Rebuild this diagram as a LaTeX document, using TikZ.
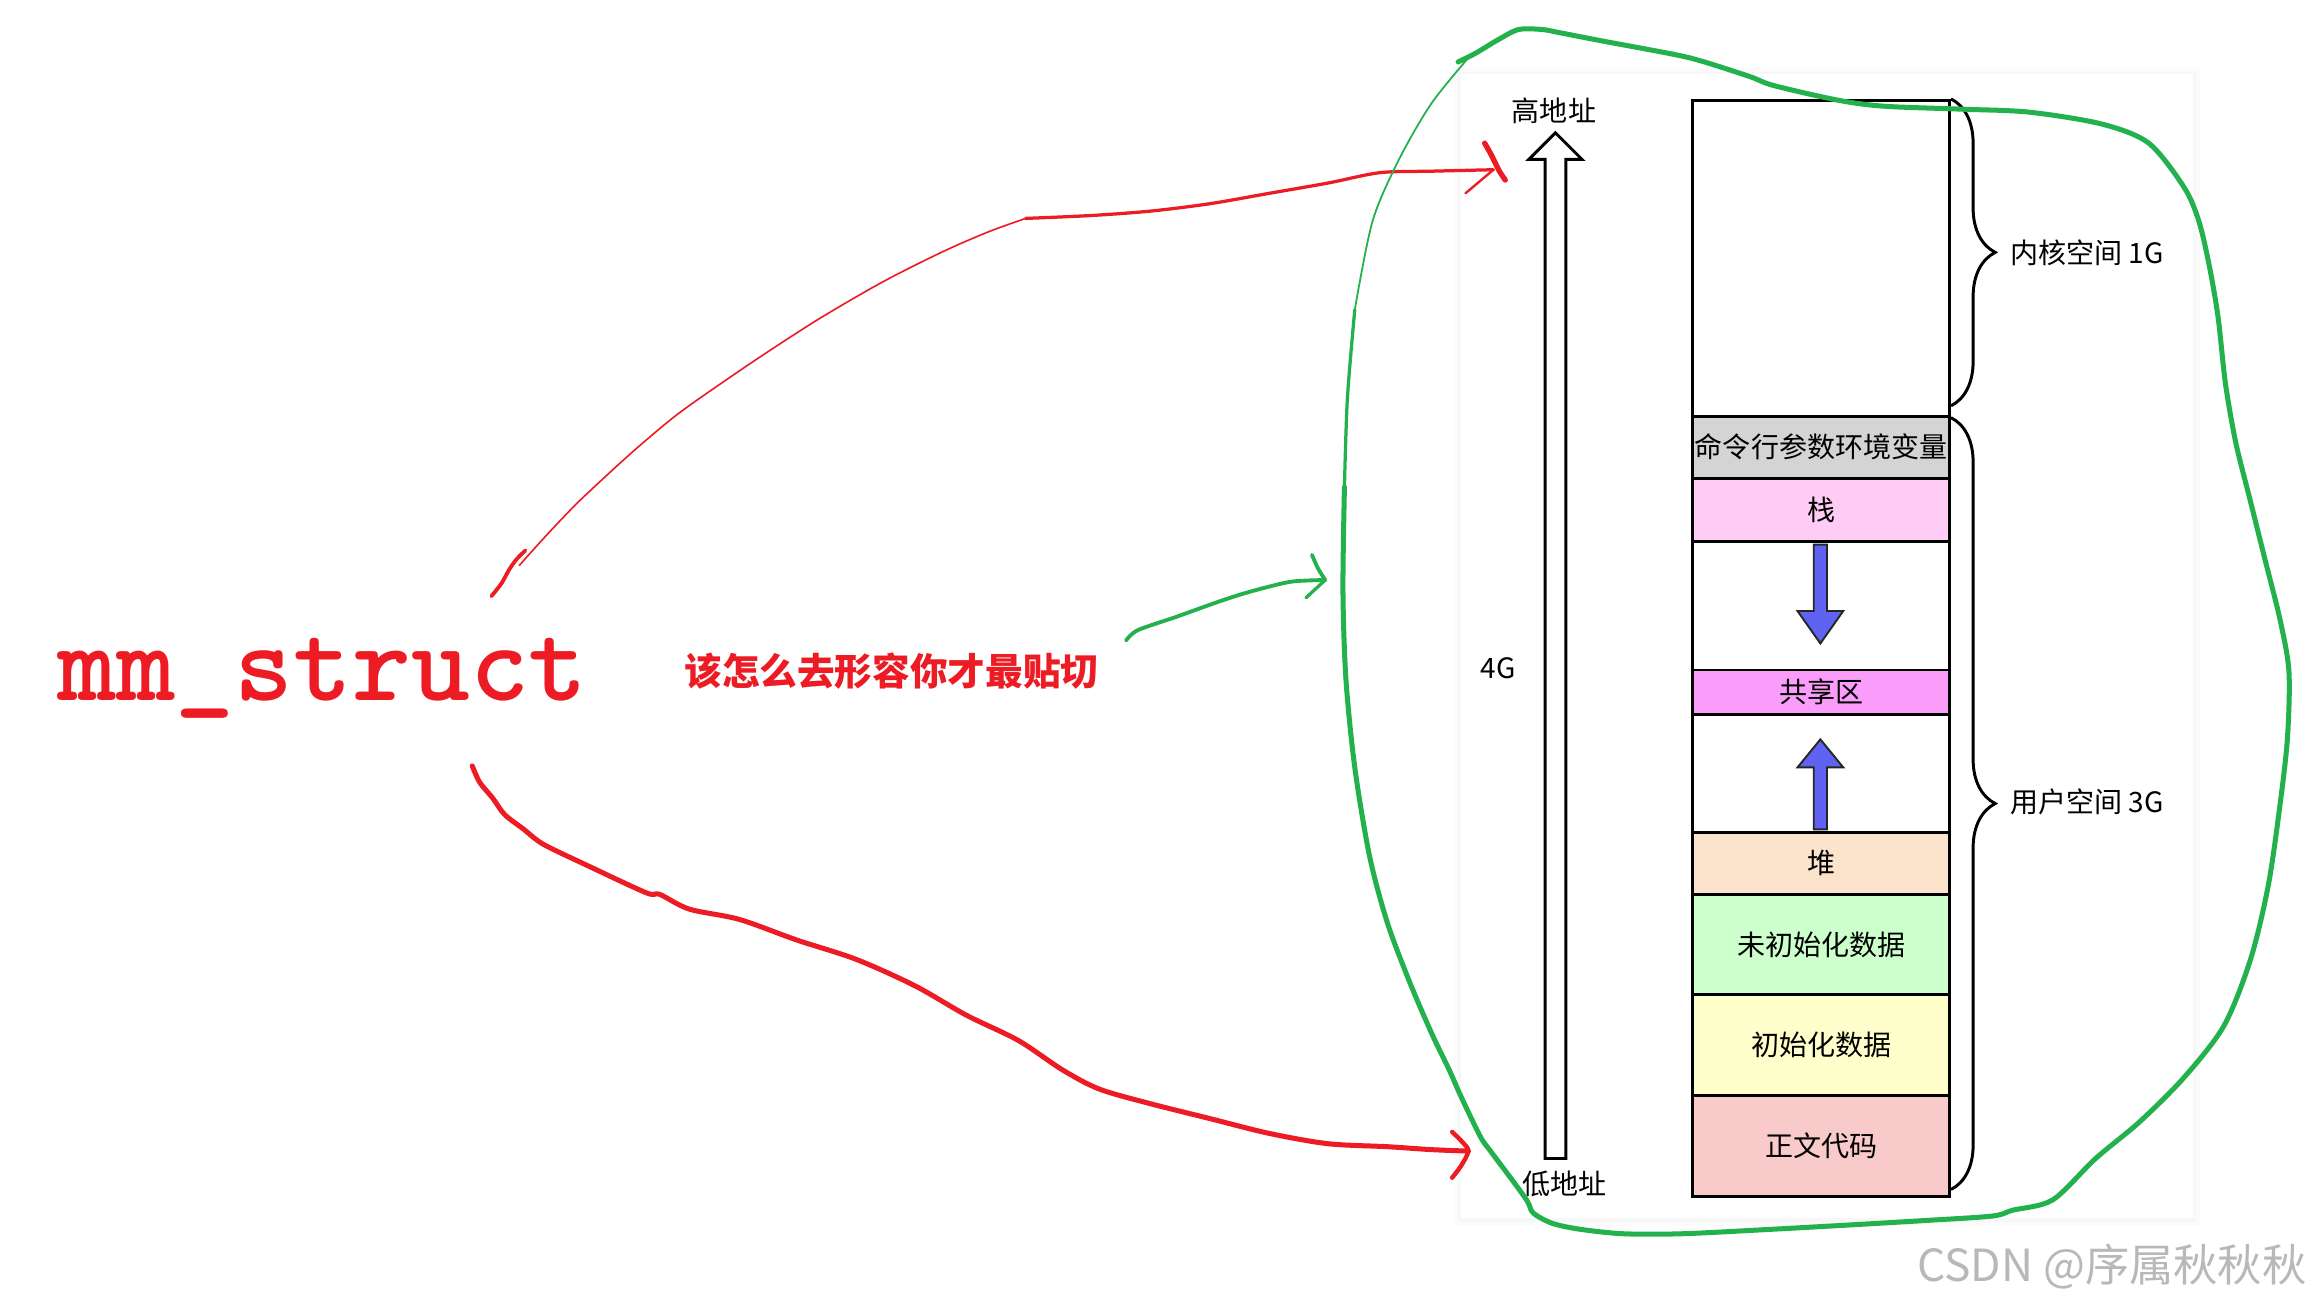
\documentclass[tikz,border=0pt]{standalone}
\usepackage{fontspec}
\newfontfamily\cjk{Noto Sans CJK SC}
\usetikzlibrary{decorations.pathreplacing}
\definecolor{pred}{HTML}{ED1C24}
\definecolor{pgreen}{HTML}{22B14C}
\definecolor{pblue}{HTML}{6063F2}
\definecolor{cgrey}{HTML}{D4D4D4}
\definecolor{cpink}{HTML}{FFCCF5}
\definecolor{cmag}{HTML}{FA9CFA}
\definecolor{cpeach}{HTML}{FCE4CC}
\definecolor{cgreen}{HTML}{CCFFCC}
\definecolor{cyellow}{HTML}{FFFFCC}
\definecolor{cred}{HTML}{F9CACA}
\tikzset{
  seg/.style={draw=black, line width=2pt, minimum width=174pt, inner sep=0pt, anchor=north west,
    font=\cjk\fontsize{19}{19}\selectfont},
  lbl/.style={inner sep=0pt, font=\cjk\fontsize{19}{19}\selectfont},
  redpen/.style={draw=pred, line cap=round, line join=round},
  greenpen/.style={draw=pgreen, line cap=round, line join=round},
  bracestyle/.style={draw=black, line width=2pt, decorate, decoration={brace, amplitude=30pt, aspect=0.5}},
  bluearrow/.style={fill=pblue, draw=black!85, line width=1.3pt, line join=miter},
}
\begin{document}
\begin{tikzpicture}[x=1pt, y=-1pt]
\useasboundingbox (0,0) rectangle (1568,886);
\fill[white] (0,0) rectangle (1568,886);

% panel with faint shadow
\fill[black!1.5] (985,46) rectangle (1491,831);
\fill[black!3] (988,49) rectangle (1488,828);
\fill[white] (990,50) rectangle (1486,825);

% big hollow address arrow
\draw[line width=2pt, fill=white, line join=miter] (1047,785) -- (1047,108) -- (1036,108) -- (1054,90) -- (1072,108) -- (1061,108) -- (1061,785) -- cycle;
\node[lbl] (hi) at (1053,75) {高地址};
\node[lbl] (lo) at (1060,802) {低地址};
\node[lbl] (fourg) at (1015,453) {4G};

% memory column
\node[seg, fill=white, minimum height=214pt] (kernel) at (1146,67) {};
\node[seg, fill=cgrey, minimum height=42pt] (cmd) at (1146,281) {命令行参数环境变量};
\node[seg, fill=cpink, minimum height=43pt] (stack) at (1146,323) {栈};
\node[seg, fill=white, minimum height=87pt] (gap1) at (1146,366) {};
\node[seg, fill=cmag, minimum height=30pt] (shared) at (1146,453) {共享区};
\node[seg, fill=white, minimum height=80pt] (gap2) at (1146,483) {};
\node[seg, fill=cpeach, minimum height=42pt] (heap) at (1146,563) {堆};
\node[seg, fill=cgreen, minimum height=68pt] (bss) at (1146,605) {未初始化数据};
\node[seg, fill=cyellow, minimum height=68pt] (data) at (1146,673) {初始化数据};
\node[seg, fill=cred, minimum height=69pt] (text) at (1146,741) {正文代码};

% blue growth arrows
\draw[bluearrow] (1229,369) -- (1238,369) -- (1238,414) -- (1249,414) -- (1233.5,436) -- (1218,414) -- (1229,414) -- cycle;
\draw[bluearrow] (1229,562) -- (1229,520) -- (1218,520) -- (1233.5,501) -- (1249,520) -- (1238,520) -- (1238,562) -- cycle;

% braces
\draw[bracestyle] (1322,67) -- (1322,275);
\draw[bracestyle] (1322,283) -- (1322,806);
\node[lbl, anchor=west] (klbl) at (1362,171) {内核空间 1G};
\node[lbl, anchor=west] (ulbl) at (1362,543) {用户空间 3G};

% left texts
\node[inner sep=0pt, anchor=base west, text=pred, font=\ttfamily\bfseries\fontsize{76}{76}\selectfont] (mm) at (39,475) {mm\_struct};
\node[inner sep=0pt, text=pred, font=\cjk\bfseries\fontsize{25.5}{25.5}\selectfont] (ask) at (604,455) {该怎么去形容你才最贴切};

% red hand-drawn arrows
\coordinate (ua) at (352,383);
\coordinate (ub) at (1012,115);
\coordinate (la) at (320,519);
\coordinate (lb) at (995,780);
\draw[redpen, line width=2.6pt] plot[smooth] coordinates {(333,404) (340,395) (345,386) (350,379) (356,373)};
\draw[redpen, line width=1.1pt] plot[smooth] coordinates {(ua) (370,363) (390,342) (408,325) (430,305) (460,280) (500,252) (530,232) (560,213) (600,190) (640,170) (670,157) (695,148)};
\draw[redpen, line width=2.2pt] plot[smooth] coordinates {(695,148) (740,146) (780,143) (820,138) (860,131) (900,124) (935,117) (970,116) (ub)};
\draw[redpen, line width=3.6pt] plot[smooth] coordinates {(1006,97) (1010,104) (1013,110) (1016,116) (1020,122)};
\draw[redpen, line width=1.6pt] (993,131) -- (ub);

\draw[redpen, line width=3.4pt] plot[smooth] coordinates {(la) (325,530) (334,541) (342,552) (355,562) (368,572) (397,586) (438,605) (447,606) (467,616) (501,623) (540,637) (580,650) (620,668) (655,688) (690,705) (720,725) (745,738) (780,748) (820,758) (860,768) (900,775) (940,777) (970,779) (lb)};
\draw[redpen, line width=3pt] plot[smooth] coordinates {(984,767) (991,774) (lb) (990,790) (984,798)};

% green small arrow
\coordinate (ga) at (763,434);
\coordinate (gb) at (898,393);
\draw[greenpen, line width=2.6pt] plot[smooth] coordinates {(ga) (771,427) (797,418) (822,409) (840,403) (858,398) (876,394) (gb)};
\draw[greenpen, line width=2.6pt] plot[smooth] coordinates {(889,376) (893,385) (gb)};
\draw[greenpen, line width=2.2pt] (885,405) -- (gb);

% green loop around the diagram
\draw[greenpen, line width=3.4pt] plot[smooth] coordinates {(988,42) (1000,36) (1015,27) (1029,20) (1045,20) (1056,22) (1087,28) (1135,37) (1155,42) (1186,52) (1202,58) (1246,68) (1277,72) (1330,74) (1375,76) (1424,84) (1456,97) (1480,127) (1490,150) (1497,180) (1503,215) (1508,260) (1515,300) (1525,340) (1535,380) (1545,420) (1551,455) (1550,500) (1545,545) (1537,600) (1525,650) (1507,695) (1480,730) (1450,760) (1420,785) (1391,813) (1364,820) (1350,824) (1305,827) (1254,830) (1200,833) (1140,836) (1100,836) (1071,833) (1052,829) (1039,822) (1035,814) (1025,800) (1010,780) (1003,770) (990,743) (982,725) (970,700) (955,665) (940,625) (928,580) (918,520) (912,460) (910,400) (911,330)};
\draw[greenpen, line width=2.2pt] plot[smooth] coordinates {(911,330) (913,270) (918,210)};
\draw[greenpen, line width=1.2pt] plot[smooth] coordinates {(918,210) (930,150) (948,108) (970,70) (996,38)};

% watermark
\node[inner sep=0pt, text=black!28, font=\cjk\fontsize{30}{30}\selectfont] (wm) at (1431,858) {CSDN @序属秋秋秋};
\end{tikzpicture}
\end{document}
